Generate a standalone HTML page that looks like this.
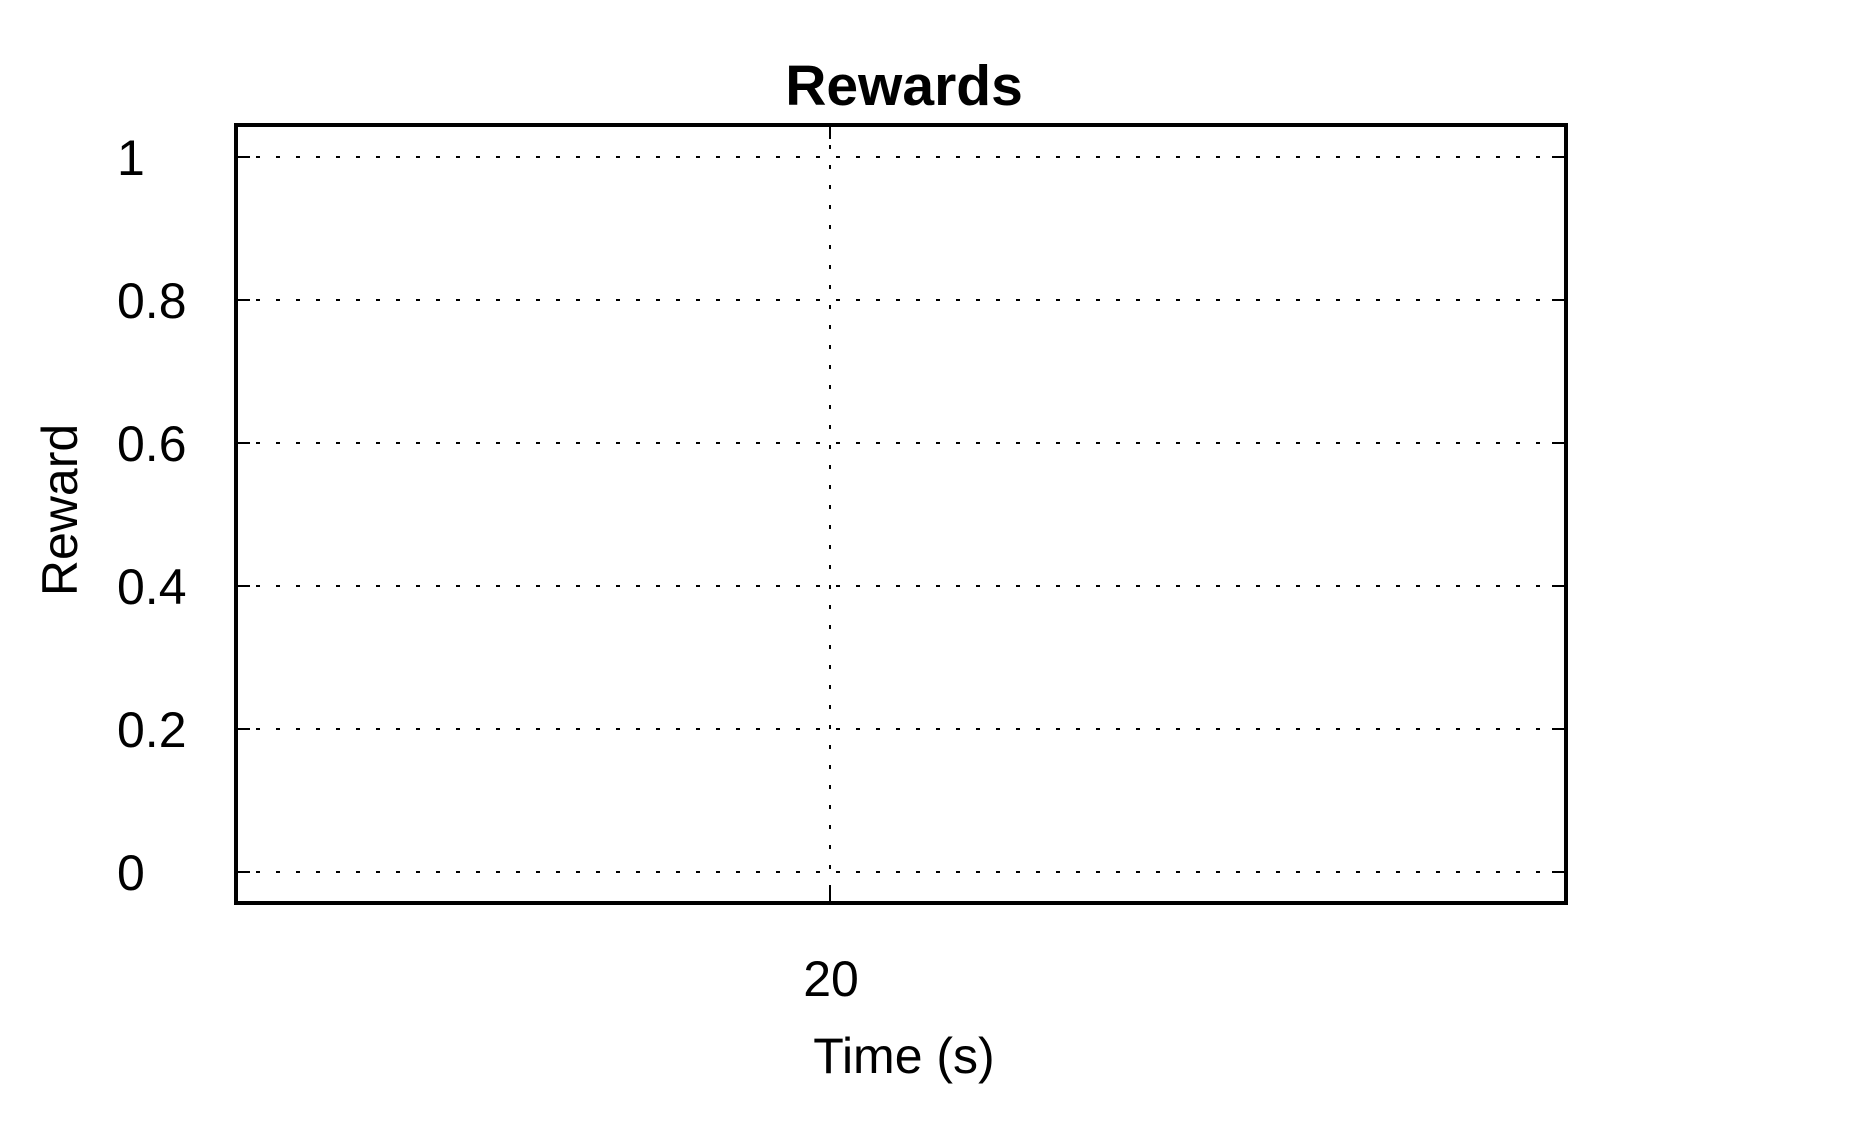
<!DOCTYPE html>
<html><head><meta charset="utf-8"><style>
html,body{margin:0;padding:0;background:#fff;}
svg{display:block;font-family:"Liberation Sans",Arial,sans-serif;}
</style></head><body>
<svg id="chart" width="1875" height="1125" viewBox="0 0 1875 1125">
<rect width="1875" height="1125" fill="#fff"/>
<g id="grid"></g>
<g id="ticks"></g>
<rect x="236" y="125" width="1330" height="778" fill="none" stroke="#000" stroke-width="4"/>
<g id="labels"></g>
<text x="904" y="105" text-anchor="middle" font-size="57" font-weight="bold">Rewards</text>
<text x="904" y="1073" text-anchor="middle" font-size="50">Time (s)</text>
<text transform="translate(77,510) rotate(-90)" text-anchor="middle" font-size="50">Reward</text>
</svg>
<script>
const yTicks = [0, 0.2, 0.4, 0.6, 0.8, 1];
const yTickLabels = ["0", "0.2", "0.4", "0.6", "0.8", "1"];
const xTicks = [20];
const xTickLabels = ["20"];
const X0 = 236, X1 = 1566, Y0 = 125, Y1 = 903;
const yScale = v => 872 + (157 - 872) * v;
const xScale = v => 830 + (v - 20) * 0;
const NS = "http://www.w3.org/2000/svg";
const grid = document.getElementById('grid');
const ticks = document.getElementById('ticks');
const labels = document.getElementById('labels');
function mk(tag, attrs, parent){const e=document.createElementNS(NS,tag);for(const k in attrs)e.setAttribute(k,attrs[k]);parent.appendChild(e);return e;}
yTicks.forEach((v,i)=>{
  const y = yScale(v);
  const g = mk('line',{x1:X0,x2:X1,y1:y,y2:y,stroke:'#000','stroke-width':2,'stroke-dasharray':'4 16'},grid);
  
  
  const t1 = mk('line',{x1:X0,x2:X0+14,y1:y,y2:y,stroke:'#000','stroke-width':2},ticks);
  
  
  const t2 = mk('line',{x1:X1-14,x2:X1,y1:y,y2:y,stroke:'#000','stroke-width':2},ticks);
  
  
  const l = mk('text',{x:117,y:y+18,'font-size':50},labels);
  l.textContent = yTickLabels[i];
  
  
});
xTicks.forEach((v,i)=>{
  const x = xScale(v);
  const g = mk('line',{x1:x,x2:x,y1:Y0,y2:Y1,stroke:'#000','stroke-width':2,'stroke-dasharray':'4 16'},grid);
  
  
  const t1 = mk('line',{x1:x,x2:x,y1:Y0,y2:Y0+14,stroke:'#000','stroke-width':2},ticks);
  
  
  const t2 = mk('line',{x1:x,x2:x,y1:Y1-14,y2:Y1,stroke:'#000','stroke-width':2},ticks);
  
  
  const l = mk('text',{x:x+1,y:996,'font-size':50,'text-anchor':'middle'},labels);
  l.textContent = xTickLabels[i];
  
  
});
</script>
</body></html>
